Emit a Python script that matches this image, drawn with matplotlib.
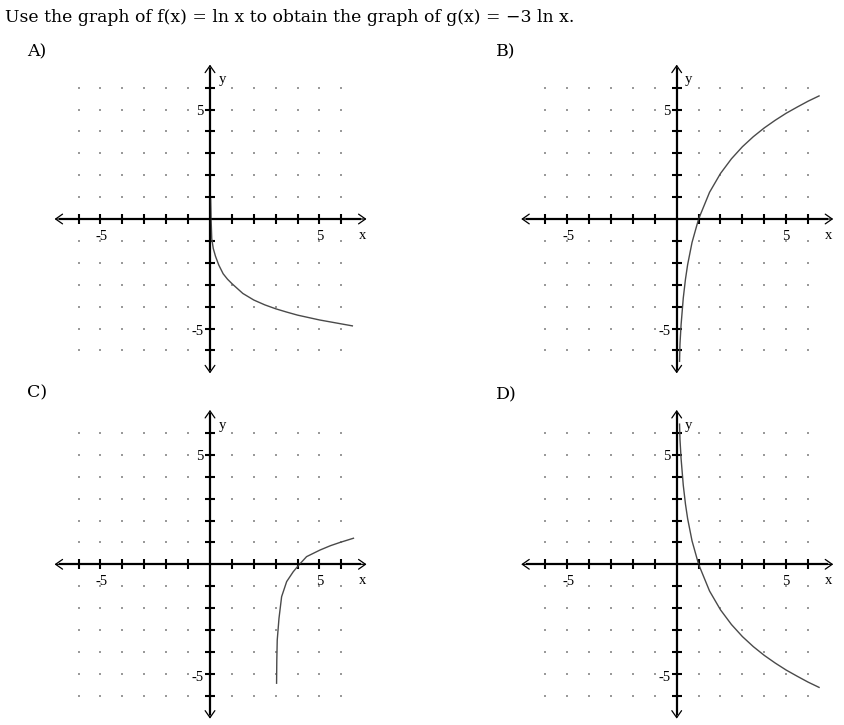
import numpy as np
import matplotlib
matplotlib.use('agg')
import matplotlib.pyplot as plt

plt.rcParams['font.family'] = ['Liberation Serif', 'DejaVu Serif']

title = "Use the graph of f(x) = ln x to obtain the graph of g(x) = \u22123 ln x."
panel_names = ["A)", "B)", "C)", "D)"]

# curve points
a_x = [0.03, 0.05, 0.08, 0.15, 0.25, 0.4, 0.6, 0.8, 1.0, 1.5, 2.0, 2.5, 3.0, 3.5, 4.0, 4.5, 5.0, 5.5, 6.0, 6.5]
a_y = [0.9, 0.0, -0.9, -1.35, -1.7, -2.1, -2.5, -2.75, -2.95, -3.4, -3.7, -3.92, -4.1, -4.25, -4.39, -4.5, -4.61, -4.7, -4.79, -4.88]

b_x = [0.13, 0.15, 0.2, 0.3, 0.4, 0.5, 0.7, 1.0, 1.5, 2.0, 2.5, 3.0, 3.5, 4.0, 4.5, 5.0, 5.5, 6.0, 6.5]
b_y = [-6.5, -5.7, -4.83, -3.61, -2.75, -2.08, -1.07, 0.0, 1.22, 2.08, 2.75, 3.3, 3.76, 4.16, 4.51, 4.83, 5.11, 5.38, 5.62]

c_x = [3.04, 3.05, 3.07, 3.15, 3.27, 3.5, 3.8, 4.06, 4.41, 5.02, 5.5, 5.94, 6.55]
c_y = [-5.43, -4.4, -3.46, -2.47, -1.48, -0.79, -0.34, -0.03, 0.35, 0.65, 0.85, 1.0, 1.19]

d_x = [0.13, 0.15, 0.2, 0.3, 0.4, 0.5, 0.7, 1.0, 1.5, 2.0, 2.5, 3.0, 3.5, 4.0, 4.5, 5.0, 5.5, 6.0, 6.5]
d_y = [6.4, 5.7, 4.83, 3.61, 2.75, 2.08, 1.07, 0.0, -1.22, -2.08, -2.75, -3.3, -3.76, -4.16, -4.51, -4.83, -5.11, -5.38, -5.62]

ticks = [t for t in range(-6, 7) if t != 0]
grid_vals = list(range(-6, 7))

W, H = 845, 725
U = 21.9
HALF = 7.6

fig = plt.figure(figsize=(W / 100, H / 100), dpi=100)
fig.text(5 / W, 1 - 18 / H, title, fontsize=12.4, ha='left', va='center',
         family=['DejaVu Serif'])


def panel(ox, oy, name, lx, ly, cx, cy):
    ax = fig.add_axes([(ox - HALF * U) / W, (H - oy - HALF * U) / H,
                       2 * HALF * U / W, 2 * HALF * U / H])
    ax.set_xlim(-HALF, HALF)
    ax.set_ylim(-HALF, HALF)
    ax.axis('off')

    gx, gy = np.meshgrid(grid_vals, grid_vals)
    ax.scatter(gx.ravel(), gy.ravel(), s=0.9, marker='s', color='#9a9a9a', lw=0)

    # axes with open arrow heads
    arr = dict(arrowstyle='<->,head_length=0.5,head_width=0.35', lw=0.9,
               color='black', shrinkA=0, shrinkB=0, mutation_scale=10)
    ax.annotate('', xy=(7.15, 0), xytext=(-7.1, 0), arrowprops=arr)
    ax.annotate('', xy=(0, 7.05), xytext=(0, -7.05), arrowprops=arr)
    ax.plot([-6.9, 6.9], [0, 0], color='black', lw=1.6, solid_capstyle='butt')
    ax.plot([0, 0], [-6.9, 6.9], color='black', lw=1.6, solid_capstyle='butt')
    ax.plot(ticks, [0] * len(ticks), ls='none', marker='|', ms=7.5, mew=1.5, color='black')
    ax.plot([0] * len(ticks), ticks, ls='none', marker='_', ms=7.5, mew=1.5, color='black')

    fs = 10.5
    ax.text(-4.95, -0.8, "-5", fontsize=fs, ha='center', va='center')
    ax.text(5.0, -0.8, "5", fontsize=fs, ha='center', va='center')
    ax.text(-0.3, 4.9, "5", fontsize=fs, ha='right', va='center')
    ax.text(-0.3, -5.15, "-5", fontsize=fs, ha='right', va='center')
    ax.text(6.95, -0.75, "x", fontsize=fs, ha='center', va='center')
    ax.text(0.55, 6.35, "y", fontsize=fs, ha='center', va='center')

    ax.plot(cx, cy, color='#4a4a4a', lw=1.0)
    fig.text(lx / W, 1 - ly / H, name, fontsize=12.5, ha='left', va='center',
             family=['DejaVu Serif'])
    return ax


panel(210, 219, panel_names[0], 27, 52, a_x, a_y)
panel(676.7, 219, panel_names[1], 496, 52, b_x, b_y)
panel(210, 564.3, panel_names[2], 27, 393, c_x, c_y)
panel(676.7, 564.3, panel_names[3], 496, 395, d_x, d_y)

fig.savefig("out.png", dpi=100)
